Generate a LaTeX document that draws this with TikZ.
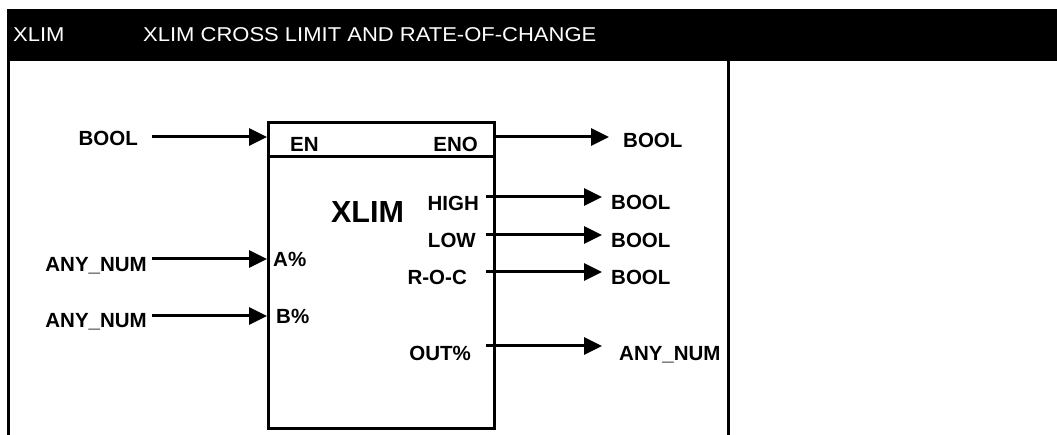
\documentclass[tikz,border=0pt]{standalone}
\usepackage{fontspec}
\setmainfont{Liberation Sans}
\newfontfamily\headfont[FakeStretch=1.1]{Liberation Sans}
\usetikzlibrary{arrows.meta,positioning}

\tikzset{
  lbl/.style={font=\bfseries\fontsize{20.5}{24}\selectfont, inner sep=0pt},
  head/.style={font=\headfont\fontsize{20}{23}\selectfont, text=white, inner sep=0pt},
  sig/.style={line width=3pt, -{Triangle[length=18pt,width=17pt]}},
  rule/.style={line width=3pt}
}

\begin{document}
\begin{tikzpicture}[x=1pt,y=-1pt]
  \useasboundingbox (0,0) rectangle (1057,435);
  % header and frame
  \fill (7,9) rectangle (1057,61);
  \node[head, anchor=base west] (hname) at (13,42) {XLIM};
  \node[head, anchor=base west] (htitle) at (143,42) {XLIM CROSS LIMIT AND RATE-OF-CHANGE};
  \draw[rule] (8.5,61) -- (8.5,435);
  \draw[rule] (728,61) -- (728,435);

  % function block
  \node[draw, rule, anchor=north west, inner sep=0pt, minimum width=226pt,
        minimum height=306pt] (fb) at (267,121) {};
  \draw[rule] (fb.west |- 0,157) -- (fb.east |- 0,157);
  \node[lbl, font=\bfseries\fontsize{30.5}{34}\selectfont, anchor=base] (fbname) at (367.5,223) {XLIM};

  % pins
  \node[lbl, anchor=base west] (pEN) at (290,152) {EN};
  \node[lbl, anchor=base east] (pENO) at (478,152) {ENO};
  \node[lbl, anchor=base west] (pA) at (273,267) {A\%};
  \node[lbl, anchor=base west] (pB) at (276,324) {B\%};
  \node[lbl, anchor=base east] (pHIGH) at (479,211) {HIGH};
  \node[lbl, anchor=base east] (pLOW) at (476,248) {LOW};
  \node[lbl, anchor=base east] (pROC) at (467,285) {R-O-C};
  \node[lbl, anchor=base east] (pOUT) at (471,360) {OUT\%};

  % inputs
  \coordinate (enIn) at (152,137);
  \coordinate (aIn) at (152,259);
  \coordinate (bIn) at (152,316);
  \draw[sig] (enIn) -- (enIn -| fb.west);
  \draw[sig] (aIn) -- (aIn -| fb.west);
  \draw[sig] (bIn) -- (bIn -| fb.west);
  \node[lbl, anchor=base east] (tEN) at (138,146) {BOOL};
  \node[lbl, anchor=base east] (tA) at (147,272) {ANY\_NUM};
  \node[lbl, anchor=base east] (tB) at (147,328) {ANY\_NUM};

  % outputs
  \coordinate (enoTip) at (609,137);
  \coordinate (highOut) at (486,197);
  \coordinate (highTip) at (602,197);
  \coordinate (lowOut) at (486,235);
  \coordinate (lowTip) at (602,235);
  \coordinate (rocOut) at (486,272);
  \coordinate (rocTip) at (602,272);
  \coordinate (outOut) at (486,346);
  \coordinate (outTip) at (602,346);
  \draw[sig] (fb.east |- enoTip) -- (enoTip);
  \draw[sig] (highOut) -- (highTip);
  \draw[sig] (lowOut) -- (lowTip);
  \draw[sig] (rocOut) -- (rocTip);
  \draw[sig] (outOut) -- (outTip);
  \node[lbl, anchor=base west] (tENO) at (623,148) {BOOL};
  \node[lbl, anchor=base west] (tHIGH) at (611,210) {BOOL};
  \node[lbl, anchor=base west] (tLOW) at (611,248) {BOOL};
  \node[lbl, anchor=base west] (tROC) at (611,285) {BOOL};
  \node[lbl, anchor=base west] (tOUT) at (619,360) {ANY\_NUM};
\end{tikzpicture}
\end{document}
